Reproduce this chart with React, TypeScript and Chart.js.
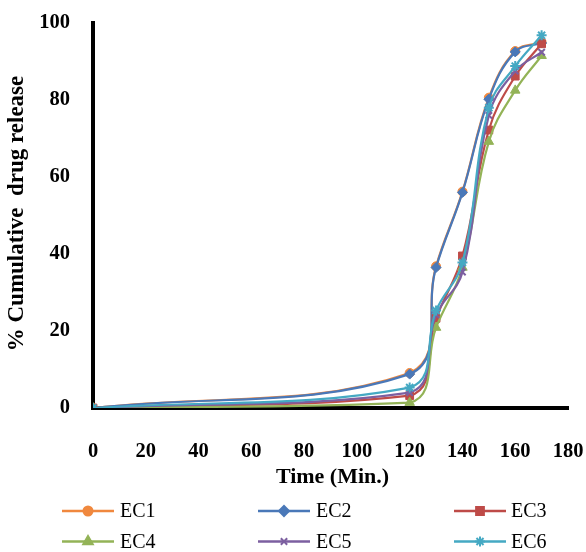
import React, { useEffect, useRef } from 'react';
import { Chart, registerables } from 'chart.js';
import { drawPoint } from 'chart.js/helpers';

Chart.register(...registerables);

const timePoints = [0, 120, 130, 140, 150, 160, 170];
const seriesNames = ['EC1', 'EC2', 'EC3', 'EC4', 'EC5', 'EC6'];
const ec1 = [0, 9.1, 36.8, 56.2, 80.6, 92.7, 95.0];
const ec2 = [0, 8.8, 36.5, 56.0, 80.2, 92.5, 94.8];
const ec3 = [0, 3.2, 23.3, 39.5, 72.2, 86.2, 94.6];
const ec4 = [0, 1.4, 20.9, 36.5, 69.2, 82.5, 91.5];
const ec5 = [0, 4.0, 24.2, 35.3, 76.0, 87.5, 92.4];
const ec6 = [0, 5.3, 25.3, 37.8, 78.0, 88.8, 96.8];
const seriesValues = [ec1, ec2, ec3, ec4, ec5, ec6];
const xTickValues = [0, 20, 40, 60, 80, 100, 120, 140, 160, 180];
const yTickValues = [0, 20, 40, 60, 80, 100];
const xTitle = 'Time (Min.)';
const yTitle = '% Cumulative  drug release';

const colors = ['#F0883E', '#4A78B8', '#BE4B48', '#93B357', '#7C5FA0', '#45A9C3'];
const pointStyles = ['circle', 'rectRot', 'rect', 'triangle', 'crossRot', 'star'];
const pointRadii = [4.5, 5, 5.5, 5.5, 4.5, 5];

const FONT = "'Liberation Serif', 'Times New Roman', serif";

const legendPlugin = {
  id: 'customLegend',
  afterDraw(chart: any) {
    const ctx = chart.ctx;
    const area = chart.chartArea;
    ctx.save();
    ctx.fillStyle = '#000';
    ctx.textAlign = 'center';
    ctx.textBaseline = 'middle';
    ctx.font = `bold 22px ${FONT}`;
    ctx.fillText(xTitle, (area.left + area.right) / 2 + 2, 477);
    ctx.save();
    ctx.translate(17, (area.top + area.bottom) / 2 - 2);
    ctx.rotate(-Math.PI / 2);
    ctx.font = `bold 23px ${FONT}`;
    ctx.fillText(yTitle, 0, 0);
    ctx.restore();

    const cols = [
      { x1: 62, x2: 114, tx: 120 },
      { x1: 258, x2: 310, tx: 316 },
      { x1: 454, x2: 506, tx: 511 },
    ];
    const rows = [511, 541.5];
    seriesNames.forEach((name, i) => {
      const c = cols[i % 3];
      const y = rows[Math.floor(i / 3)];
      ctx.strokeStyle = colors[i];
      ctx.fillStyle = colors[i];
      ctx.lineWidth = 2.5;
      ctx.beginPath();
      ctx.moveTo(c.x1, y);
      ctx.lineTo(c.x2, y);
      ctx.stroke();
      ctx.lineWidth = 2;
      drawPoint(ctx, { pointStyle: pointStyles[i], radius: pointRadii[i], borderWidth: 2, rotation: 0 } as any, (c.x1 + c.x2) / 2, y);
      ctx.fillStyle = '#000';
      ctx.font = `20px ${FONT}`;
      ctx.textAlign = 'left';
      ctx.textBaseline = 'middle';
      ctx.fillText(name, c.tx, y + 1);
    });
    ctx.restore();
  },
};

export default function App() {
  const ref = useRef<HTMLCanvasElement | null>(null);
  useEffect(() => {
    if (!ref.current) return;
    const chart = new Chart(ref.current, {
      type: 'line',
      data: {
        datasets: seriesNames.map((name, i) => ({
          label: name,
          data: timePoints.map((t, j) => ({ x: t, y: seriesValues[i][j] })),
          borderColor: colors[i],
          backgroundColor: colors[i],
          pointBorderColor: colors[i],
          pointBackgroundColor: colors[i],
          pointStyle: pointStyles[i] as any,
          pointRadius: pointRadii[i],
          pointBorderWidth: i >= 4 ? 2 : 1,
          borderWidth: 2.2,
          tension: 0.4,
          fill: false,
          order: 6 - i,
        })),
      },
      options: {
        animation: false,
        responsive: false,
        devicePixelRatio: 1,
        layout: { padding: { top: 23, right: 18, bottom: 64, left: 0 } },
        plugins: { legend: { display: false }, tooltip: { enabled: false } },
        scales: {
          x: {
            type: 'linear',
            min: 0,
            max: 180,
            afterFit: (s: any) => { s.height = 80; },
            afterBuildTicks: (s: any) => { s.ticks = xTickValues.map((v) => ({ value: v })); },
            grid: { display: false, drawTicks: true, tickLength: 31 },
            border: { display: true, color: '#000', width: 4 },
            ticks: { padding: 0, color: '#000', font: { family: FONT, size: 20.5, weight: 'bold' }, maxRotation: 0 },
            title: { display: false },
          },
          y: {
            min: 0,
            max: 100,
            afterFit: (s: any) => { s.width = 93; },
            afterBuildTicks: (s: any) => { s.ticks = yTickValues.map((v) => ({ value: v })); },
            grid: { display: false, drawTicks: true, tickLength: 23 },
            border: { display: true, color: '#000', width: 4 },
            ticks: { padding: 0, color: '#000', font: { family: FONT, size: 20.5, weight: 'bold' } },
            title: { display: false },
          },
        },
      },
      plugins: [legendPlugin],
    });
    return () => chart.destroy();
  }, []);
  return (
    <div style={{ position: 'fixed', left: 0, top: 0, width: 586, height: 552, background: '#fff' }}>
      <canvas ref={ref} width={586} height={552} style={{ width: 586, height: 552, display: 'block' }} />
    </div>
  );
}
